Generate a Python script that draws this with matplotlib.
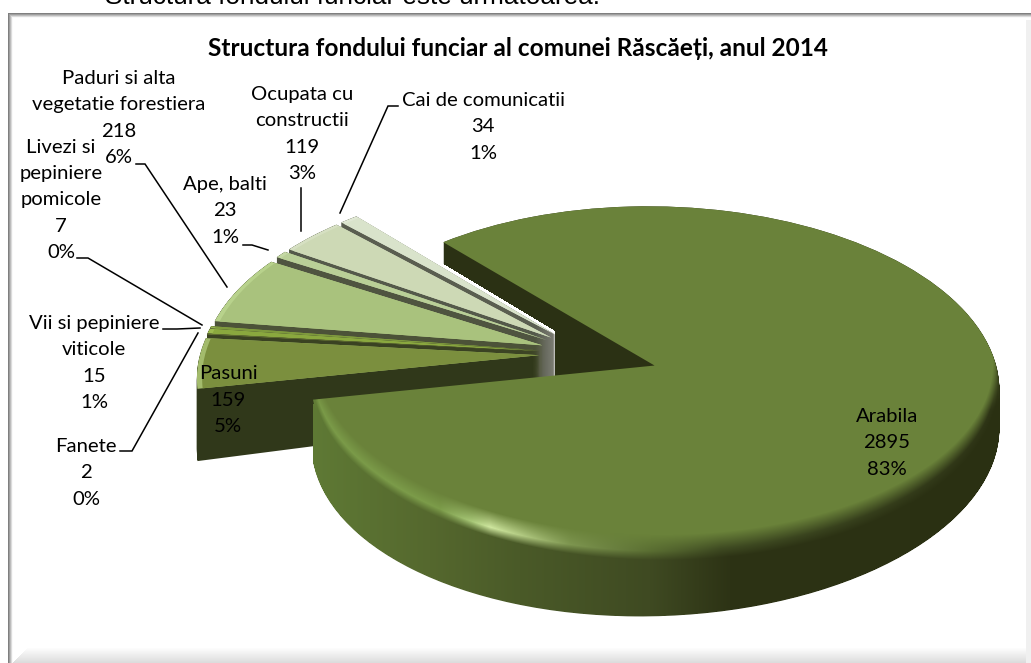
import numpy as np
import matplotlib
matplotlib.use("Agg")
import matplotlib.pyplot as plt
from matplotlib.path import Path
from matplotlib.lines import Line2D
from matplotlib.colors import to_rgb
from matplotlib.transforms import Affine2D, IdentityTransform, Transform

# ---- data ----
categories = ["Arabila", "Pasuni", "Fanete", "Vii si pepiniere\nviticole",
              "Livezi si\npepiniere\npomicole", "Paduri si alta\nvegetatie forestiera",
              "Ape, balti", "Ocupata cu\nconstructii", "Cai de comunicatii"]
values = [2895, 159, 2, 15, 7, 218, 23, 119, 34]
percents = [83, 5, 0, 1, 0, 6, 1, 3, 1]
title = "Structura fondului funciar al comunei Răscăeți, anul 2014"
heading = "Structura fondului funciar este următoarea:"

# ---- style / layout ----
W, H = 1031, 663
FONT = "Lato"
explode = [0.20, 0.15, 0.15, 0.15, 0.15, 0.15, 0.15, 0.15, 0.15]
top_colors = ["#6a823a", "#7b8f3e", "#5c6a2e", "#8aa83e", "#7e9a3c",
              "#a9c27d", "#b9cf97", "#cdd9b5", "#d9e3cb"]
rim_colors = ["#6a823a", "#a3bb6c", "#7c8c3e", "#9cba4e", "#94b050",
              "#b8d28c", "#c4d8a4", "#d6e0c2", "#e0e8d4"]
wall_colors = ["#2b3114", "#30381a", "#3a4222", "#3e4626", "#3e4626",
               "#4c5238", "#4f5440", "#54594a", "#5a5e50"]
START = 131.0
CX, CY, SX, SY, K = 590.0, 354.0, 339.0, 175.0, 0.115
APEX_BOTTOM = 381.0
WALL_SLOPE = 0.148
LAYERS = 60
SMALL_LAYERS = 240
BLOCK_RIGHT = 555
label_pos = [(887, 443), (228, 400), (86, 473), (94, 363), (61, 200),
             (119, 118), (225, 211), (302, 134), (483, 127)]
leaders = [None, None,
           [(120, 451), (132, 451), (198, 333)],
           [(163, 329), (177, 329), (200, 328)],
           [(77, 258), (88, 258), (202, 325)],
           [(136, 164), (145, 164), (227, 287)],
           [(243, 245), (252, 245), (268, 250)],
           [(301, 188), (301, 231)],
           [(398, 106), (388, 106), (340, 213)]]


class Projective(Transform):
    input_dims = output_dims = 2
    is_separable = False
    has_inverse = False

    def transform_non_affine(self, xy):
        xy = np.asarray(xy, float)
        w = 1 + K * xy[:, 1]
        return np.column_stack((xy[:, 0] / w, xy[:, 1] / w))


fig = plt.figure(figsize=(W / 100, H / 100), dpi=100)
ax = fig.add_axes([0, 0, 1, 1])
PX = Affine2D().scale(1, -1).translate(0, H)
proj = Projective()
N = len(values)


def pie_layer(colors, radius=1.0):
    wedges, _ = ax.pie(values, explode=explode, startangle=START, counterclock=False,
                       colors=colors, radius=radius, labeldistance=None,
                       wedgeprops=dict(linewidth=0))
    for w in wedges:
        w.set_transform(proj + ax.transData)
    return wedges


rim = pie_layer(rim_colors)
inner = pie_layer(top_colors, 0.985)
core = pie_layer(top_colors, 0.5)
for w in core:
    w.set_visible(False)

ax.set_aspect("auto")
ax.set_xlim(-CX / SX, (W - CX) / SX)
ax.set_ylim((CY - H) / SY, CY / SY)
ax.axis("off")


def disp_path(w):
    return w.get_transform().transform_path(w.get_path())


def compound(base, d0, slope, x0, layers=LAYERS):
    parts = []
    for t in np.linspace(0, 1, layers):
        m = np.array([[1, 0, 0], [t * slope, 1, -t * (d0 + slope * x0)], [0, 0, 1]])
        parts.append(Affine2D(m).transform_path(base))
    return Path.make_compound_path(*parts)


def gradient(stops, xs):
    px = [s[0] for s in stops]
    cols = np.array([to_rgb(s[1]) for s in stops])
    return np.stack([np.interp(xs, px, cols[:, i]) for i in range(3)], axis=1)


xs = np.arange(W) + 0.5
ys = np.arange(H) + 0.5
XX, YY = np.meshgrid(xs, ys)


def show(rgba, clip, z):
    im = ax.imshow(rgba, extent=(0, W, 0, H), origin="upper", aspect="auto",
                   transform=IdentityTransform(), interpolation="nearest", zorder=z)
    if clip is not None:
        im.set_clip_path(clip, IdentityTransform())
    return im


# ---- frame background ----
bg = np.ones((H, W, 3))
for i in range(5):
    bg[:, 8 + i] = np.minimum(bg[:, 8 + i], 0.5 + 0.12 * i)
    bg[13 + i, 8:] = np.minimum(bg[13 + i, 8:], 0.5 + 0.12 * i)
for i in range(15):
    bg[648 + i, 12 + (15 - i):] = np.minimum(bg[648 + i, 12 + (15 - i):], 1 - 0.009 * (i + 1))
bg[20:, 1026:] = 0.945
bg[:13] = 1
bg[:, :8] = 1
show(bg, None, 0)

# ---- small slices, back to front ----
for i in range(N - 1, 0, -1):
    z = 10 + (N - i)
    base = disp_path(rim[i])
    apex = ax.transData.transform(proj.transform_non_affine(np.array([rim[i].center])))[0]
    if i == 1:
        clip = compound(base, 62, 0.03, apex[0])
    else:
        d0 = apex[1] - (H - APEX_BOTTOM)
        clip = compound(base, d0, WALL_SLOPE, apex[0], SMALL_LAYERS)
    rgb = np.tile(np.array(to_rgb(wall_colors[i])), (H, W, 1))
    if i > 4:
        block = gradient([(535, wall_colors[i]), (BLOCK_RIGHT, "#7d7d74")], xs)
        rgb = np.tile(block, (H, 1, 1))
    show(rgb, clip, z)
    rim[i].set_zorder(z + 0.2)
    inner[i].set_zorder(z + 0.3)

# ---- large slice ----
arab_base = disp_path(rim[0])
wall_clip = compound(arab_base, 50, 0.035, 650)
wall_rgb = gradient([(310, "#5f7a35"), (430, "#55682e"), (520, "#4a5a28"), (650, "#3f4a22"),
                     (730, "#2d3315"), (1000, "#2a3012")], xs)
wall_img = np.tile(wall_rgb, (H, 1, 1))
wall_pure = wall_img.copy()
wall_img[YY < 398] = to_rgb(wall_colors[0])
alpha = np.ones((H, W))
sector = (XX < BLOCK_RIGHT) & (YY > 260 + 0.6 * (XX - 437)) & (YY < 378 + (BLOCK_RIGHT - XX) * 0.107)
alpha[sector] = 0
show(np.dstack((wall_img, alpha)), wall_clip, 30)
# inner part of the same wall, reaching down to the front edge of the slice
core_clip = compound(disp_path(core[0]), 80, 0, 650)
core_rgba = np.dstack((np.tile(np.array(to_rgb(wall_colors[0])), (H, W, 1)),
                       (XX >= BLOCK_RIGHT).astype(float)))
show(core_rgba, core_clip, 30)

# top surface with a soft bevel along the front edge
rim_rgb = gradient([(310, "#7a9a48"), (440, "#7c9c4a"), (472, "#a8c878"), (490, "#cfe79f"),
                    (520, "#b4cc84"), (570, "#7e9650"), (650, "#5a6e32"), (720, "#3f4b22"),
                    (1000, "#2e3416")], xs)
rim_img = np.tile(rim_rgb, (H, 1, 1))
top_rgb = np.array(to_rgb(top_colors[0]))
Xp = (XX - CX) / SX
Yp = (CY - YY) / SY
Yd = Yp / (1 - K * Yp)
Xd = Xp * (1 + K * Yd)
xc, yc = rim[0].center
edge = yc - np.sqrt(np.clip(1 - (Xd - xc) ** 2, 0, 1))
dist = (Yd - edge) * SY
fade = np.clip((YY - 350) / 60, 0, 1)
f1 = (np.clip((25 - dist) / 13, 0, 1) * fade)[..., None]
f2 = (np.clip((12 - dist) / 7, 0, 1) * fade)[..., None]
surface = top_rgb * (1 - f1) + rim_img * f1
surface = surface * (1 - f2) + wall_pure * f2
show(surface, arab_base, 31)
rim[0].set_visible(False)
inner[0].set_visible(False)

ax.set_xlim(-CX / SX, (W - CX) / SX)
ax.set_ylim((CY - H) / SY, CY / SY)

# ---- text ----
ax.text(105, 4, heading, transform=PX, fontfamily="Liberation Sans", fontsize=18.8,
        ha="left", va="baseline", color="black", zorder=50)
ax.text(518, 48, title, transform=PX, fontfamily=FONT, fontweight="bold", fontsize=17.6,
        ha="center", va="center", color="black", zorder=50)
for name, val, pct, pos, lead in zip(categories, values, percents, label_pos, leaders):
    ax.text(pos[0], pos[1], f"{name}\n{val}\n{pct}%", transform=PX, fontfamily=FONT,
            fontsize=14.6, ha="center", va="center", linespacing=1.65, color="black", zorder=50)
    if lead:
        ax.add_line(Line2D([p[0] for p in lead], [p[1] for p in lead], transform=PX,
                           color="black", lw=1.1, zorder=49, solid_joinstyle="miter"))

fig.savefig("out.png", dpi=100)
